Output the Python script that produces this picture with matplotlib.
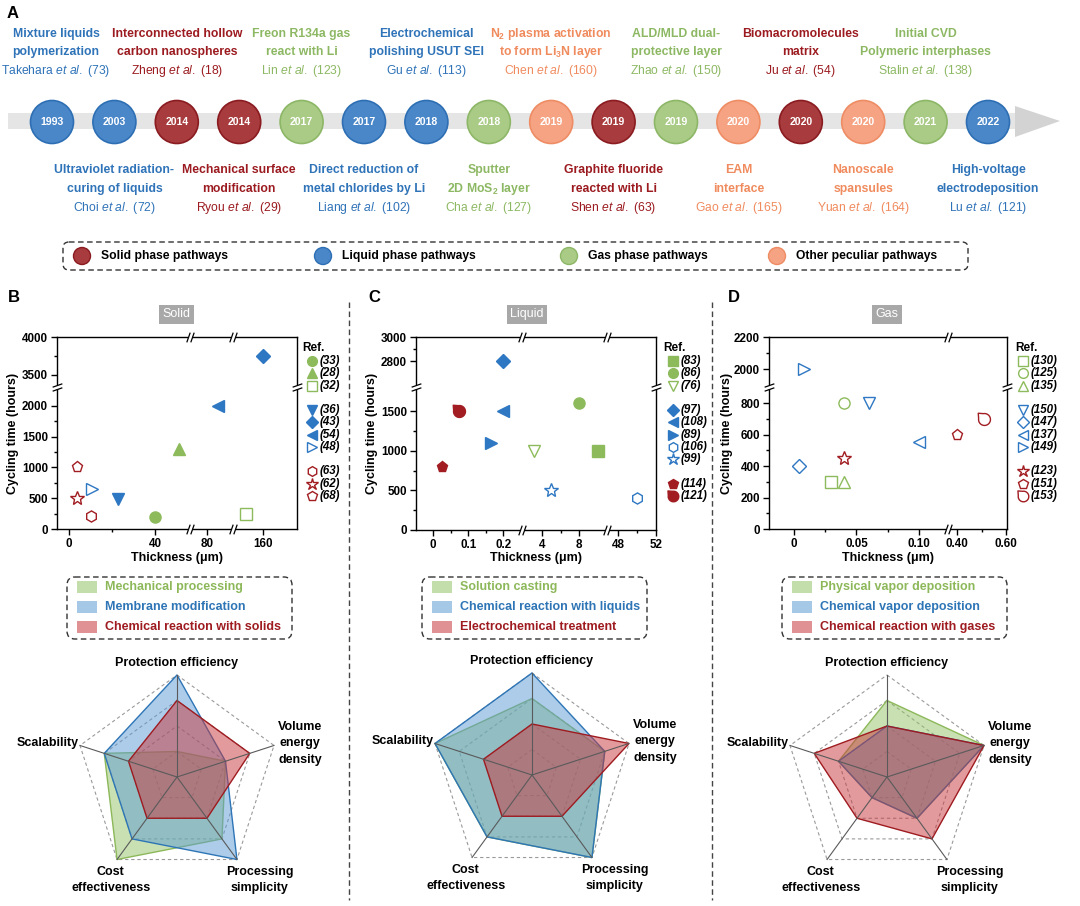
import numpy as np
import matplotlib
matplotlib.use("Agg")
import matplotlib.pyplot as plt
from matplotlib.patches import Circle, FancyBboxPatch, Polygon, Rectangle
from matplotlib.path import Path

plt.rcParams.update({
    "font.family": ["Liberation Sans", "DejaVu Sans"],
    "mathtext.fontset": "custom",
    "mathtext.rm": "Liberation Sans",
    "mathtext.it": "Liberation Sans:italic",
    "mathtext.bf": "Liberation Sans:bold",
})

W, H = 1080, 906

# ---------------- timeline data (panel A) ----------------
years = [1993, 2003, 2014, 2014, 2017, 2017, 2018, 2018,
         2019, 2019, 2019, 2020, 2020, 2020, 2021, 2022]
phases = ["liquid", "liquid", "solid", "solid", "gas", "liquid", "liquid", "gas",
          "other", "solid", "gas", "other", "solid", "other", "gas", "liquid"]
titles = [
    ["Mixture liquids", "polymerization"],
    ["Ultraviolet radiation-", "curing of liquids"],
    ["Interconnected hollow", "carbon nanospheres"],
    ["Mechanical surface", "modification"],
    ["Freon R134a gas", "react with Li"],
    ["Direct reduction of", "metal chlorides by Li"],
    ["Electrochemical", "polishing USUT SEI"],
    ["Sputter", r"2D MoS$_\mathbf{2}$ layer"],
    [r"N$_\mathbf{2}$ plasma activation", r"to form Li$_\mathbf{3}$N layer"],
    ["Graphite fluoride", "reacted with Li"],
    ["ALD/MLD dual-", "protective layer"],
    ["EAM", "interface"],
    ["Biomacromolecules", "matrix"],
    ["Nanoscale", "spansules"],
    ["Initial CVD", "Polymeric interphases"],
    ["High-voltage", "electrodeposition"],
]
authors = ["Takehara", "Choi", "Zheng", "Ryou", "Lin", "Liang", "Gu", "Cha",
           "Chen", "Shen", "Zhao", "Gao", "Ju", "Yuan", "Stalin", "Lu"]
author_refs = ["73", "72", "18", "29", "123", "102", "113", "127",
               "160", "63", "150", "165", "54", "164", "138", "121"]

phase_names = ["solid", "liquid", "gas", "other"]
phase_labels = ["Solid phase pathways", "Liquid phase pathways",
                "Gas phase pathways", "Other peculiar pathways"]

PH_FILL = {"solid": "#A83B3D", "liquid": "#4A87C9", "gas": "#A9CB85", "other": "#F6A384"}
PH_EDGE = {"solid": "#8A1C21", "liquid": "#2E6FB4", "gas": "#8DB767", "other": "#EE8C64"}
PH_TEXT = {"solid": "#9B1B20", "liquid": "#2F73B8", "gas": "#8DB863", "other": "#F08B5E"}

# ---------------- scatter data (panels B, C, D) ----------------
b_refs = ["33", "28", "32", "36", "43", "54", "48", "63", "62", "68"]
b_markers = ["o", "^", "s", "v", "D", "<", ">", "h", "*", "p"]
b_groups = [0, 0, 0, 1, 1, 1, 1, 2, 2, 2]
b_filled = [1, 1, 0, 1, 1, 1, 0, 0, 0, 0]
b_thickness = [40, 51, 152, 23, 160, 85, 10.5, 10, 3.5, 3.5]
b_cycling = [200, 1300, 250, 480, 3750, 2000, 650, 215, 500, 1000]

c_refs = ["83", "86", "76", "97", "108", "89", "106", "99", "114", "121"]
c_markers = ["s", "o", "v", "D", "<", ">", "h", "*", "p", "drop"]
c_groups = [0, 0, 0, 1, 1, 1, 1, 1, 2, 2]
c_filled = [1, 1, 0, 1, 1, 1, 0, 0, 1, 1]
c_thickness = [10, 8, 3.1, 0.2, 0.2, 0.165, 50, 5, 0.025, 0.075]
c_cycling = [1000, 1600, 1000, 2800, 1500, 1100, 400, 500, 800, 1500]

d_refs = ["130", "125", "135", "150", "147", "137", "149", "123", "151", "153"]
d_markers = ["s", "o", "^", "v", "D", "<", ">", "*", "p", "drop"]
d_groups = [0, 0, 0, 1, 1, 1, 1, 2, 2, 2]
d_filled = [0, 0, 0, 0, 0, 0, 0, 0, 0, 0]
d_thickness = [0.03, 0.04, 0.04, 0.06, 0.004, 0.10, 0.008, 0.04, 0.40, 0.51]
d_cycling = [300, 800, 300, 800, 400, 550, 2000, 450, 600, 700]

# ---------------- radar data ----------------
radar_axes = ["Protection efficiency", "Volume\nenergy\ndensity",
              "Processing\nsimplicity", "Cost\neffectiveness", "Scalability"]
b_methods = ["Mechanical processing", "Membrane modification", "Chemical reaction with solids"]
b_scores = [[0.25, 0.5, 0.75, 1.0, 0.75],
            [1.0, 0.5, 1.0, 0.75, 0.75],
            [0.75, 0.75, 0.5, 0.5, 0.5]]
c_methods = ["Solution casting", "Chemical reaction with liquids", "Electrochemical treatment"]
c_scores = [[0.75, 0.75, 1.0, 0.75, 1.0],
            [1.0, 0.75, 1.0, 0.75, 1.0],
            [0.5, 1.0, 0.5, 0.5, 0.5]]
d_methods = ["Physical vapor deposition", "Chemical vapor deposition", "Chemical reaction with gases"]
d_scores = [[0.75, 1.0, 0.5, 0.25, 0.5],
            [0.5, 1.0, 0.5, 0.25, 0.5],
            [0.5, 1.0, 0.75, 0.5, 0.75]]

GROUP_COL = ["#8DBB5C", "#2E77C2", "#A11D22"]
FILL_COL = ["#92C266", "#5B9BD5", "#C8373C"]
EDGE_COL = ["#8DB85A", "#2E75B6", "#9E1B20"]
TEXT_COL = ["#8DB85A", "#2E75B6", "#9E1B20"]

t = np.deg2rad(np.linspace(170, 460, 40))
_v = np.column_stack([np.cos(t), np.sin(t)])
_tip = np.array([[-1.05, 1.05]])
DROP = Path(np.vstack([_tip, _v, _tip]), closed=True)
SLASH_X = Path([(-0.35, -1), (0.35, 1)], [Path.MOVETO, Path.LINETO])
SLASH_Y = Path([(-1, -0.35), (1, 0.35)], [Path.MOVETO, Path.LINETO])


def mk(m):
    return DROP if m == "drop" else m


def broken(segments):
    d = np.array([v for s in segments for v in s[:2]], float)
    p = np.array([v for s in segments for v in s[2:]], float)

    def conv(v, a, b):
        v = np.asarray(v, float)
        out = np.interp(v, a, b)
        k0 = (b[1] - b[0]) / (a[1] - a[0])
        k1 = (b[-1] - b[-2]) / (a[-1] - a[-2])
        out = np.where(v < a[0], b[0] + (v - a[0]) * k0, out)
        out = np.where(v > a[-1], b[-1] + (v - a[-1]) * k1, out)
        return out

    return (lambda v: conv(v, d, p)), (lambda v: conv(v, p, d))


def draw_breaks(ax, segments, axis):
    for s0, s1 in zip(segments[:-1], segments[1:]):
        lo, hi = s0[1], s1[0]
        for side in (0, 1):
            if axis == "x":
                tr = ax.get_xaxis_transform()
                xs, ys, path = [lo, hi], [side, side], SLASH_X
            else:
                tr = ax.get_yaxis_transform()
                xs, ys, path = [side, side], [lo, hi], SLASH_Y
            ax.plot(xs, ys, color="white", lw=3, transform=tr, clip_on=False, zorder=5,
                    solid_capstyle="butt")
            ax.plot(xs, ys, ls="none", marker=path, ms=7, mec="black", mew=0.9,
                    transform=tr, clip_on=False, zorder=6)


def scatter_panel(box, xseg, yseg, xt, xtl, xmin, yt, ytl, ymin,
                  thick, cyc, markers, groups, filled):
    left, right, top, bottom = box
    ax = fig.add_axes([left / W, 1 - bottom / H, (right - left) / W, (bottom - top) / H])
    ax.set_xscale("function", functions=broken(xseg))
    ax.set_yscale("function", functions=broken(yseg))
    ax.set_xlim(xseg[0][0], xseg[-1][1])
    ax.set_ylim(yseg[0][0], yseg[-1][1])
    ax.set_xticks(xt)
    ax.set_xticklabels(xtl)
    ax.set_xticks(xmin, minor=True)
    ax.set_yticks(yt)
    ax.set_yticklabels(ytl)
    ax.set_yticks(ymin, minor=True)
    ax.tick_params(which="both", direction="out", width=1, labelsize=8.4, pad=2.5)
    ax.tick_params(which="major", length=4)
    ax.tick_params(which="minor", length=2)
    for lab in ax.get_xticklabels() + ax.get_yticklabels():
        lab.set_fontweight("bold")
    for sp in ax.spines.values():
        sp.set_linewidth(1)
    for x, y, m, g, f in zip(thick, cyc, markers, groups, filled):
        ms = 10 if m == "*" else (9 if m == "drop" else 8)
        if m == "D":
            ms = 7
        ax.plot(x, y, ls="none", marker=mk(m), ms=ms, mew=1.0,
                mec=GROUP_COL[g], mfc=GROUP_COL[g] if f else "none", zorder=4)
    draw_breaks(ax, xseg, "x")
    draw_breaks(ax, yseg, "y")
    return ax


def ref_list(x_ref, x_mark, refs, markers, groups, filled):
    ov.text(x_ref, 348, "Ref.", fontsize=8.5, fontweight="bold", ha="left", va="center")
    for k, (r, m, g, f) in enumerate(zip(refs, markers, groups, filled)):
        y = 361 + 12.27 * (k + g)
        ms = 9 if m == "*" else (8 if m == "drop" else 7)
        if m == "D":
            ms = 6.5
        ov.plot(x_mark, y, ls="none", marker=mk(m), ms=ms, mew=1.0,
                mec=GROUP_COL[g], mfc=GROUP_COL[g] if f else "none")
        ov.text(x_mark + 8, y, f"({r})", fontsize=8.3, fontweight="bold",
                fontstyle="italic", ha="left", va="center")


def method_legend(x0, x1, names):
    ov.add_patch(FancyBboxPatch((x0, 577), x1 - x0, 62,
                                boxstyle="round,pad=0,rounding_size=8", fill=False,
                                ls=(0, (4, 2.5)), ec="#333333", lw=1))
    for k, name in enumerate(names):
        y = 587 + 20 * k
        ov.add_patch(Rectangle((x0 + 10, y - 6), 20, 12, fc=FILL_COL[k], alpha=0.55, ec="none"))
        ov.text(x0 + 38, y, name, color=TEXT_COL[k], fontsize=9, fontweight="bold",
                ha="left", va="center")


def radar(cx, cy, scores):
    u = 102.0
    ax = fig.add_axes([(cx - 165) / W, (H - (cy + 129)) / H, 330 / W, 256 / H])
    ax.set_xlim(-165 / u, 165 / u)
    ax.set_ylim(-129 / u, 127 / u)
    ax.axis("off")
    ang = np.deg2rad([90, 18, -54, -126, 162])
    cs, sn = np.cos(ang), np.sin(ang)
    for lvl in (0.25, 0.5, 0.75, 1.0):
        ax.add_patch(Polygon(np.column_stack([lvl * cs, lvl * sn]), closed=True, fill=False,
                             ec="#9A9A9A", lw=0.8, ls=(0, (3, 2.5))))
    for c, s in zip(cs, sn):
        ax.plot([0, c], [0, s], color="#5A5A5A", lw=0.8)
    for k, sc in enumerate(scores):
        sc = np.asarray(sc)
        ax.add_patch(Polygon(np.column_stack([sc * cs, sc * sn]), closed=True,
                             fc=FILL_COL[k], alpha=0.5, ec="none"))
        ax.add_patch(Polygon(np.column_stack([sc * cs, sc * sn]), closed=True,
                             fill=False, ec=EDGE_COL[k], lw=1.0))
    kw = dict(fontsize=9, fontweight="bold", clip_on=False, linespacing=1.5)
    ax.text(0, 1.12, radar_axes[0], ha="center", va="center", **kw)
    ax.text(1.21, 0.33, radar_axes[1], ha="center", va="center", **kw)
    ax.text(0.81, -1.01, radar_axes[2], ha="center", va="center", **kw)
    ax.text(-0.65, -1.01, radar_axes[3], ha="center", va="center", **kw)
    ax.text(-0.96, 0.33, radar_axes[4], ha="right", va="center", **kw)


fig = plt.figure(figsize=(W / 100, H / 100), dpi=100)
ov = fig.add_axes([0, 0, 1, 1])
ov.set_xlim(0, W)
ov.set_ylim(H, 0)
ov.axis("off")

# ---------------- panel A ----------------
ov.text(13, 13, "A", fontsize=12, fontweight="bold", ha="center", va="center")
ov.add_patch(Rectangle((8, 113), 1010, 16, fc="#E5E5E5", ec="none"))
ov.add_patch(Polygon([(1015, 106), (1060, 121), (1015, 137)], closed=True,
                     fc="#D3D3D3", ec="none"))
for i, (yr, ph) in enumerate(zip(years, phases)):
    cx = 52 + 62.4 * i
    ov.add_patch(Circle((cx, 122), 21.5, fc=PH_FILL[ph], ec=PH_EDGE[ph], lw=1.2))
    ov.text(cx, 122, str(yr), color="white", fontsize=7.6, fontweight="bold",
            ha="center", va="center")
    lines_y = [34, 52, 71] if i % 2 == 0 else [170, 189, 208]
    col = PH_TEXT[ph]
    tx = cx + (4 if i == 0 else 0)
    ov.text(tx, lines_y[0], titles[i][0], color=col, fontsize=8.8, fontweight="bold",
            ha="center", va="center")
    ov.text(tx, lines_y[1], titles[i][1], color=col, fontsize=8.8, fontweight="bold",
            ha="center", va="center")
    ov.text(tx, lines_y[2], authors[i] + r" $\mathit{et\ al.}$ ($\mathit{" + author_refs[i] + "}$)",
            color=col, fontsize=8.7, ha="center", va="center")

ov.add_patch(FancyBboxPatch((63, 242), 905, 28, boxstyle="round,pad=0,rounding_size=6",
                            fill=False, ls=(0, (4, 2.5)), ec="#333333", lw=1))
for xk, ph, lab in zip([82, 323, 569, 777], phase_names, phase_labels):
    ov.add_patch(Circle((xk, 256), 8.5, fc=PH_FILL[ph], ec=PH_EDGE[ph], lw=1))
    ov.text(xk + 19, 256, lab, fontsize=8.7, fontweight="bold", ha="left", va="center")

# dividers and panel letters
for xd in (349, 712):
    ov.plot([xd, xd], [302, 900], color="#444444", lw=1, ls=(0, (4, 2.5)))
for xl, lt in zip([14, 374, 734], ["B", "C", "D"]):
    ov.text(xl, 298, lt, fontsize=12, fontweight="bold", ha="center", va="center")

# scatter title chips and axis labels
for cxp, name in zip([176, 527, 887], ["Solid", "Liquid", "Gas"]):
    ov.text(cxp, 314, name, color="white", fontsize=9, ha="center", va="center",
            bbox=dict(fc="#A8A8A8", ec="none", pad=2.5))
for xl, xc in zip([13, 372, 727], [177, 536, 888]):
    ov.text(xl, 433, "Cycling time (hours)", rotation=90, fontsize=9, fontweight="bold",
            ha="center", va="center")
    ov.text(xc, 558, "Thickness (μm)", fontsize=9, fontweight="bold",
            ha="center", va="center")

# ---------------- panel B ----------------
scatter_panel((57, 297, 337, 529),
              [(-5.6, 55.4, 57, 188), (73.0, 91.2, 192, 231), (147.0, 175.8, 235, 297)],
              [(0, 2276, 0, 140), (3368, 4000, 144, 192)],
              [0, 40, 80, 160], ["0", "40", "80", "160"], [20],
              [0, 500, 1000, 1500, 2000, 3500, 4000],
              ["0", "500", "1000", "1500", "2000", "3500", "4000"],
              [250, 750, 1250, 1750, 3750],
              b_thickness, b_cycling, b_markers, b_groups, b_filled)
ref_list(302, 312, b_refs, b_markers, b_groups, b_filled)

# ---------------- panel C ----------------
scatter_panel((416, 656, 337, 530),
              [(-0.048, 0.247, 416, 520), (2.05, 10.81, 524, 605), (47.05, 52, 609, 656)],
              [(0, 1778, 0, 141), (2600, 3000, 145, 193)],
              [0, 0.1, 0.2, 4, 8, 48, 52], ["0", "0.1", "0.2", "4", "8", "48", "52"],
              [0.05, 0.15, 6, 50],
              [0, 500, 1000, 1500, 2800, 3000],
              ["0", "500", "1000", "1500", "2800", "3000"],
              [250, 750, 1250, 2900],
              c_thickness, c_cycling, c_markers, c_groups, c_filled)
ref_list(663, 673, c_refs, c_markers, c_groups, c_filled)

# ---------------- panel D ----------------
scatter_panel((769, 1007, 337, 529),
              [(-0.02, 0.1216, 769, 946), (0.3714, 0.604, 950, 1007)],
              [(0, 889, 0, 140), (1900, 2200, 144, 192)],
              [0, 0.05, 0.10, 0.40, 0.60], ["0", "0.05", "0.10", "0.40", "0.60"],
              [0.025, 0.075, 0.5],
              [0, 200, 400, 600, 800, 2000, 2200],
              ["0", "200", "400", "600", "800", "2000", "2200"],
              [100, 300, 500, 700, 2100],
              d_thickness, d_cycling, d_markers, d_groups, d_filled)
ref_list(1015, 1023, d_refs, d_markers, d_groups, d_filled)

# ---------------- legends and radars ----------------
method_legend(67, 292, b_methods)
method_legend(422, 647, c_methods)
method_legend(782, 1007, d_methods)

radar(177, 777, b_scores)
radar(532, 775, c_scores)
radar(887, 777, d_scores)

fig.savefig("out.png", dpi=100)
